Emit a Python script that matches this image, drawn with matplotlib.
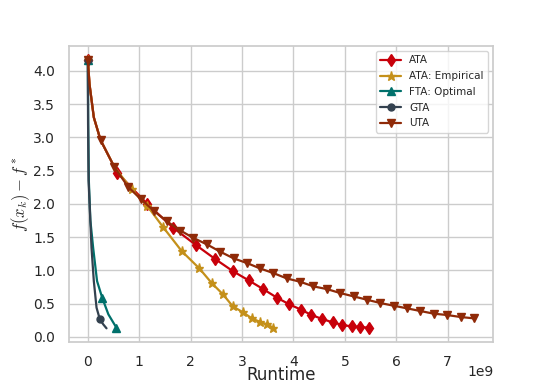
import numpy as np
import matplotlib
matplotlib.use("Agg")
import matplotlib.pyplot as plt
import seaborn as sns

sns.set_theme(style="whitegrid")
plt.rcParams["mathtext.fontset"] = "cm"

# runtime in units of 1e9, objective gap f(x_k) - f*
uta_x = [0, 0.033, 0.117, 0.248, 0.513, 0.780, 1.033, 1.293, 1.534, 1.80, 2.05, 2.32, 2.58, 2.84,
         3.10, 3.35, 3.61, 3.87, 4.13, 4.39, 4.65, 4.91, 5.17, 5.43, 5.69, 5.95, 6.21, 6.47,
         6.73, 6.99, 7.25, 7.51]
uta_y = [4.17, 3.80, 3.30, 2.96, 2.56, 2.26, 2.07, 1.89, 1.74, 1.60, 1.49, 1.39, 1.28, 1.18,
         1.11, 1.03, 0.96, 0.88, 0.83, 0.76, 0.72, 0.66, 0.61, 0.56, 0.51, 0.47, 0.43, 0.39,
         0.35, 0.33, 0.30, 0.28]

ata_x = [0, 0.033, 0.117, 0.248, 0.571, 1.156, 1.663, 2.106, 2.48, 2.82, 3.13, 3.41, 3.68,
         3.92, 4.15, 4.35, 4.56, 4.76, 4.95, 5.13, 5.30, 5.46]
ata_y = [4.17, 3.80, 3.30, 2.96, 2.47, 2.00, 1.64, 1.38, 1.17, 0.99, 0.85, 0.72, 0.59,
         0.49, 0.41, 0.33, 0.27, 0.22, 0.18, 0.16, 0.15, 0.14]

emp_x = [0, 0.033, 0.117, 0.248, 0.513, 0.852, 1.156, 1.456, 1.827, 2.17, 2.41, 2.63, 2.82,
         3.02, 3.19, 3.34, 3.48, 3.61]
emp_y = [4.17, 3.80, 3.30, 2.96, 2.56, 2.22, 1.97, 1.66, 1.29, 1.03, 0.81, 0.64, 0.46,
         0.37, 0.28, 0.23, 0.19, 0.14]

fta_x = [0, 0.008, 0.02, 0.05, 0.104, 0.18, 0.28, 0.40, 0.556]
fta_y = [4.17, 3.20, 2.35, 1.75, 1.34, 0.84, 0.59, 0.34, 0.14]

gta_x = [0, 0.005, 0.015, 0.072, 0.117, 0.17, 0.234, 0.30, 0.364]
gta_y = [4.17, 3.20, 2.35, 1.34, 0.84, 0.44, 0.266, 0.19, 0.13]

fig, ax = plt.subplots(figsize=(5.48, 3.84), dpi=100)
ax.plot(np.array(ata_x) * 1e9, ata_y, color="#c8000a", marker="d", markevery=[0] + list(range(4, len(ata_x))),
        lw=1.6, ms=6.5, label="ATA")
ax.plot(np.array(emp_x) * 1e9, emp_y, color="#c4901a", marker="*", markevery=[0] + list(range(5, len(emp_x))),
        lw=1.6, ms=6.5, label="ATA: Empirical")
ax.plot(np.array(fta_x) * 1e9, fta_y, color="#00706b", marker="^", markevery=[0, 6, 8],
        lw=1.6, ms=6, label="FTA: Optimal")
ax.plot(np.array(gta_x) * 1e9, gta_y, color="#33414f", marker="o", markevery=[0, 6],
        lw=1.6, ms=5, label="GTA")
ax.plot(np.array(uta_x) * 1e9, uta_y, color="#8f2a08", marker="v", markevery=[0] + list(range(3, len(uta_x))),
        lw=1.6, ms=6, label="UTA")

ax.set_xlabel("Runtime", fontsize=12, labelpad=-1.8)
ax.set_ylabel(r"$f(x_k) - f^*$", fontsize=12, labelpad=1)
ax.tick_params(labelsize=10)
# scale factor drawn by hand so it sits where the original had it
ax.xaxis.get_offset_text().set_visible(False)
ax.text(1.0, -0.080, "1e9", transform=ax.transAxes, ha="right", va="top", fontsize=10, color="#262626")
ax.legend(loc="upper right", fontsize=7.5, labelspacing=0.55)
plt.savefig("out.png", dpi=100)
